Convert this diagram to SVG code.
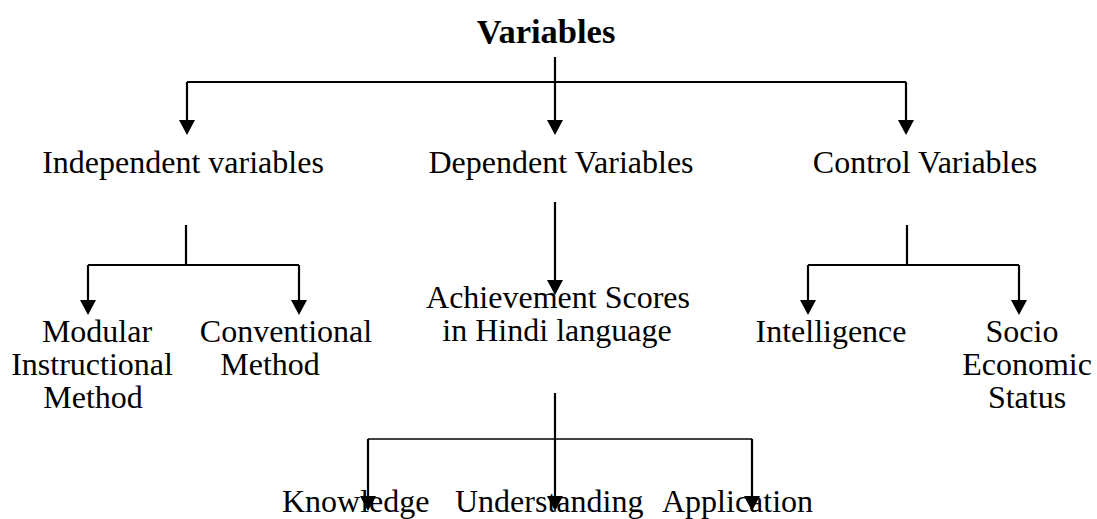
<svg xmlns="http://www.w3.org/2000/svg" width="1097" height="519" viewBox="0 0 1097 519">
<defs>
<style>
text{font-family:"Liberation Serif","Times New Roman",serif;font-size:32px;fill:#000;text-anchor:middle}
.title{font-weight:bold;font-size:34.5px}
.st{text-anchor:start}
.ln{stroke:#000;stroke-width:2.2;fill:none}
.thin{stroke:#000;stroke-width:1.5;fill:none}
.ah{fill:#000}
</style>
</defs>
<rect width="1097" height="519" fill="#fff"/>
<g id="connectors">
<path class="ln" d="M555,57 V82 M187,82 H906 M187,82 V122 M555,82 V122 M906,82 V122"/>
<path class="ah" d="M179,120 H195 L187,135 Z M547,120 H563 L555,135 Z M898,120 H914 L906,135 Z"/>
<path class="ln" d="M186,225 V265 M88,265 H299 M88,265 V302 M299,265 V302"/>
<path class="ah" d="M80,300 H96 L88,315 Z M291,300 H307 L299,315 Z"/>
<path class="ln" d="M555,202 V282"/>
<path class="ah" d="M547,280 H563 L555,295 Z"/>
<path class="ln" d="M555,393 V499 M368,439 V499 M752,439 V499"/>
<path class="thin" d="M368,439 H752"/>
<path class="ah" d="M360,496 H376 L368,511 Z M547,496 H563 L555,511 Z M744,496 H760 L752,511 Z"/>
<path class="ln" d="M907,225 V265 M808,265 H1019 M808,265 V302 M1019,265 V302"/>
<path class="ah" d="M800,300 H816 L808,315 Z M1011,300 H1027 L1019,315 Z"/>
</g>
<g id="n-variables"><text class="title" x="546" y="43">Variables</text></g>
<g id="n-independent"><text x="183" y="173">Independent variables</text></g>
<g id="n-dependent"><text x="561" y="173">Dependent Variables</text></g>
<g id="n-control"><text x="925" y="173">Control Variables</text></g>
<g id="n-modular"><text x="97" y="342">Modular</text><text x="92" y="375">Instructional</text><text x="93" y="408">Method</text></g>
<g id="n-conventional"><text x="286" y="342">Conventional</text><text x="270" y="375">Method</text></g>
<g id="n-achievement"><text x="558" y="308">Achievement Scores</text><text x="557" y="341">in Hindi language</text></g>
<g id="n-knowledge"><text class="st" x="282" y="512">Knowledge</text></g>
<g id="n-understanding"><text class="st" x="455" y="512">Understanding</text></g>
<g id="n-application"><text class="st" x="662" y="512">Application</text></g>
<g id="n-intelligence"><text x="831" y="342">Intelligence</text></g>
<g id="n-socio"><text x="1022" y="342">Socio</text><text x="1027" y="375">Economic</text><text x="1027" y="408">Status</text></g>
</svg>
